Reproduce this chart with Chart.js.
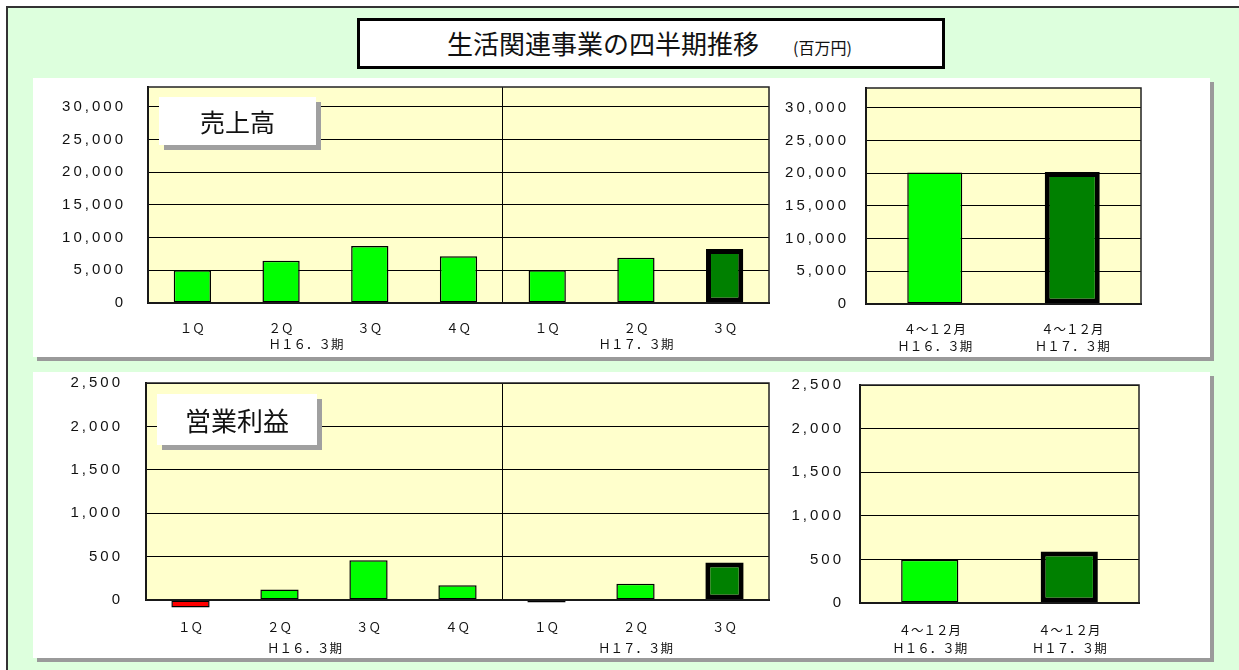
<!DOCTYPE html>
<html lang="ja">
<head>
  <meta charset="UTF-8">
  <title>生活関連事業の四半期推移</title>
  <script src="https://cdn.jsdelivr.net/npm/chart.js"></script>
  <style>
    * { margin: 0; padding: 0; box-sizing: border-box; }
    body {
      width: 1239px; height: 670px; overflow: hidden;
      background: #fff; position: relative;
      font-family: 'Noto Sans CJK JP', sans-serif; color: #111;
    }
    #frame {
      position: absolute; left: 6px; top: 6px; width: 1250px; height: 680px;
      background: #ddffdd; border-left: 2px solid #333; border-top: 2px solid #333;
    }
    .panel {
      position: absolute; background: #fff;
      box-shadow: 4px 4px 0 #9a9a9a;
    }
    #titleBox {
      position: absolute; left: 357px; top: 18px; width: 588px; height: 51px;
      background: #fff; border: 3px solid #000;
    }
    .abs { position: absolute; white-space: nowrap; line-height: 1; }
    canvas { position: absolute; }
    .tag {
      position: absolute; background: #fff; z-index: 5;
      box-shadow: 5px 5px 0 #a0a0a0;
      display: flex; align-items: center; justify-content: center;
      line-height: 1;
    }
  </style>
</head>
<body>
  <div id="frame"></div>
  <div class="panel" style="left:33px;top:78px;width:1177px;height:279px"></div>
  <div class="panel" style="left:33px;top:372px;width:1177px;height:286px"></div>

  <div id="titleBox"></div>
  <div class="abs" style="left:447px;top:30px;font-size:26px">生活関連事業の四半期推移</div>
  <div class="abs" style="left:793px;top:39px;font-size:16px">(百万円)</div>

  <canvas id="salesQ" width="740" height="275" style="left:40px;top:80px"></canvas>
  <canvas id="salesCum" width="380" height="275" style="left:780px;top:80px"></canvas>
  <canvas id="profitQ" width="740" height="283" style="left:40px;top:375px"></canvas>
  <canvas id="profitCum" width="380" height="283" style="left:780px;top:375px"></canvas>

  <div class="tag" style="left:159px;top:97px;width:157px;height:48px;font-size:25px">売上高</div>
  <div class="tag" style="left:157px;top:394px;width:160px;height:51px;font-size:26px">営業利益</div>

  <script>
    // quarter labels (H16.3期: 1Q-4Q, H17.3期: 1Q-3Q)
    const quarterLabels = [
      ['１Ｑ'], ['２Ｑ', '　　　　Ｈ１６．３期'], ['３Ｑ'], ['４Ｑ'],
      ['１Ｑ'], ['２Ｑ', 'Ｈ１７．３期'], ['３Ｑ']
    ];
    const cumLabels = [['４～１２月', 'Ｈ１６．３期'], ['４～１２月', 'Ｈ１７．３期']];

    // 売上高 (百万円)
    const salesTicks = [0, 5000, 10000, 15000, 20000, 25000, 30000];
    const salesH16 = [5000, 6450, 8700, 7150];
    const salesH17 = [5000, 6900, 8250];
    const salesCumulative = [20100, 20150];

    // 営業利益 (百万円)
    const profitTicks = [0, 500, 1000, 1500, 2000, 2500];
    const profitH16 = [-85, 120, 458, 170];
    const profitH17 = [-30, 188, 433];
    const profitCumulative = [495, 590];

    const LIME = '#00ff00', DARK = '#008000', RED = '#ff0000';

    // yellow plot area, frame, and letter spacing for the y labels only
    const plotFrame = {
      id: 'plotFrame',
      beforeDraw(chart) {
        const { ctx, chartArea: a } = chart;
        ctx.save();
        ctx.fillStyle = '#ffffcc';
        ctx.fillRect(a.left, a.top, a.width, a.height);
        ctx.restore();
        ctx.letterSpacing = '3px';
      },
      afterDatasetsDraw(chart) {
        chart.ctx.letterSpacing = '0px';
      },
      afterDraw(chart) {
        const { ctx, chartArea: a } = chart;
        ctx.save();
        ctx.strokeStyle = '#222';
        ctx.lineWidth = 1.5;
        ctx.strokeRect(a.left, a.top, a.width, a.height);
        ctx.restore();
      }
    };

    function makeChart(id, labels, values, ticks, o) {
      const last = values.length - 1;
      return new Chart(document.getElementById(id), {
        type: 'bar',
        data: {
          labels: labels,
          datasets: [{
            data: values,
            backgroundColor: c => c.raw < 0 ? RED : (c.dataIndex === last ? DARK : LIME),
            borderColor: '#000',
            borderWidth: c => c.dataIndex === last ? 5 : 1.5,
            borderSkipped: false,
            barPercentage: o.bar,
            categoryPercentage: 1,
            clip: false
          }]
        },
        options: {
          responsive: false,
          animation: false,
          devicePixelRatio: 1,
          layout: { padding: { top: o.padTop, right: o.padRight, left: 0, bottom: 0 } },
          plugins: { legend: { display: false }, tooltip: { enabled: false } },
          scales: {
            x: {
              afterFit: s => { s.height = o.xHeight; s.paddingLeft = s.paddingRight = 0; },
              grid: {
                offset: true, drawTicks: false,
                color: c => (o.divider && c.index === o.divider) ? '#000' : 'rgba(0,0,0,0)'
              },
              border: { color: '#000', width: 2 },
              ticks: {
                z: 1, padding: o.xPad, color: '#111',
                maxRotation: 0, minRotation: 0, autoSkip: false,
                font: { family: "'Noto Sans CJK JP', sans-serif", size: 12.5, lineHeight: o.lineH }
              }
            },
            y: {
              min: 0, max: o.max,
              afterBuildTicks: s => { s.ticks = ticks.map(v => ({ value: v })); },
              afterFit: s => { s.width = o.yWidth; s.paddingTop = s.paddingBottom = 0; },
              grid: { color: '#000', lineWidth: 1, drawTicks: false },
              border: { color: '#000', width: 2 },
              ticks: {
                padding: o.yPad, color: '#111',
                font: { family: "'Liberation Sans', Arial, sans-serif", size: 15 },
                callback: v => v.toLocaleString('en-US')
              }
            }
          }
        },
        plugins: [plotFrame]
      });
    }

    makeChart('salesQ', quarterLabels, salesH16.concat(salesH17), salesTicks, {
      bar: 0.42, padTop: 7, padRight: 11, xHeight: 52, yWidth: 108, yPad: 22,
      xPad: 17, lineH: 1.3, max: 33000, divider: 4
    });
    makeChart('salesCum', cumLabels, salesCumulative, salesTicks, {
      bar: 0.4, padTop: 8, padRight: 19, xHeight: 51, yWidth: 86, yPad: 17,
      xPad: 17, lineH: 1.35, max: 33000
    });
    makeChart('profitQ', quarterLabels, profitH16.concat(profitH17), profitTicks, {
      bar: 0.43, padTop: 8, padRight: 11, xHeight: 58, yWidth: 106, yPad: 23,
      xPad: 17, lineH: 1.68, max: 2500, divider: 4
    });
    makeChart('profitCum', cumLabels, profitCumulative, profitTicks, {
      bar: 0.41, padTop: 10, padRight: 21, xHeight: 55, yWidth: 80, yPad: 16,
      xPad: 18, lineH: 1.45, max: 2500
    });
  </script>
</body>
</html>
